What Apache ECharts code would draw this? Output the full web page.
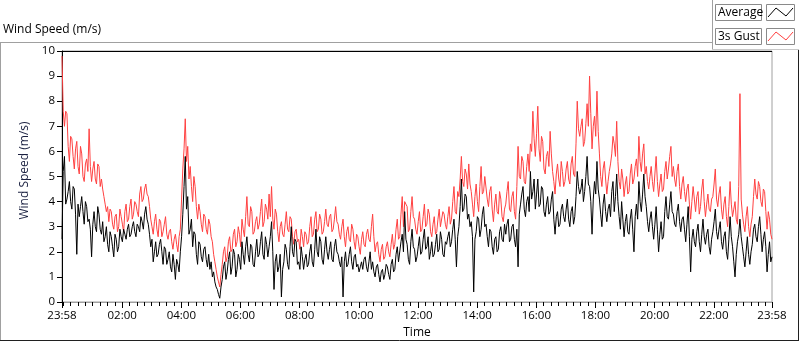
<!DOCTYPE html>
<html>
<head>
<meta charset="utf-8">
<script src="https://cdn.jsdelivr.net/npm/echarts@6/dist/echarts.min.js"></script>
<style>
html, body { margin: 0; padding: 0; background: #fff; }
#chart { width: 800px; height: 342px; }
</style>
</head>
<body>
<div id="chart"></div>
<script>
// one sample every 2.5 minutes, starting at 23:58 the day before
const stepMinutes = 2.5

const gust = [
  9.8, 7.6, 7.0, 7.6, 7.5, 6.2, 5.6, 6.6, 6.5, 5.8, 5.3, 6.1,
  6.4, 5.4, 5.1, 6.2, 5.9, 5.0, 4.8, 5.5, 5.7, 5.2, 6.9, 5.4,
  4.8, 5.3, 5.6, 4.9, 4.7, 5.5, 5.4, 4.6, 4.9, 4.5, 4.2, 3.9,
  3.6, 3.8, 3.2, 3.7, 3.6, 3.1, 2.9, 3.4, 3.5, 2.8, 3.0, 3.7,
  3.4, 3.1, 2.8, 3.6, 3.9, 3.2, 3.3, 3.8, 4.1, 3.3, 3.5, 4.0,
  3.9, 3.6, 3.4, 4.3, 4.6, 4.0, 4.1, 4.5, 4.7, 4.3, 4.2, 3.8,
  3.3, 3.0, 2.7, 3.2, 3.5, 2.9, 2.6, 3.3, 3.2, 2.6, 2.8, 3.1,
  3.4, 2.7, 2.5, 2.8, 2.9, 2.4, 2.1, 2.5, 2.7, 2.3, 2.0, 2.6,
  2.9, 4.1, 5.3, 6.1, 7.3, 5.6, 6.2, 4.9, 5.4, 4.6, 4.0, 5.0,
  4.6, 3.8, 3.3, 3.9, 3.6, 3.1, 2.8, 3.5, 3.4, 2.9, 2.7, 3.3,
  3.1, 2.6, 2.4, 1.9, 1.6, 1.3, 1.0, 0.8, 0.6, 1.1, 1.5, 2.0,
  2.2, 1.6, 1.8, 2.4, 2.6, 2.0, 2.1, 2.7, 2.9, 2.2, 2.4, 3.0,
  2.7, 2.2, 3.3, 2.9, 2.6, 3.4, 4.2, 3.1, 3.0, 3.8, 3.6, 2.7,
  2.8, 3.2, 3.4, 2.9, 3.1, 3.6, 4.1, 3.0, 3.2, 3.9, 3.7, 3.3,
  4.3, 3.4, 4.6, 3.3, 2.9, 3.7, 3.5, 2.8, 2.4, 3.0, 3.2, 2.7,
  2.6, 3.1, 3.6, 2.9, 2.8, 3.4, 3.3, 2.6, 2.3, 2.8, 2.9, 2.4,
  2.5, 2.1, 2.9, 2.6, 2.2, 2.8, 2.7, 2.3, 2.4, 3.0, 3.4, 2.6,
  2.7, 3.3, 3.6, 2.8, 2.9, 3.5, 3.3, 2.7, 2.8, 3.2, 3.7, 3.1,
  3.0, 3.4, 3.5, 2.8, 2.9, 3.3, 3.8, 3.2, 3.1, 2.7, 2.5, 3.0,
  3.3, 2.6, 2.2, 2.8, 3.0, 2.5, 2.4, 3.1, 2.9, 2.4, 2.1, 2.7,
  2.6, 2.2, 1.9, 2.5, 2.8, 2.3, 2.2, 2.7, 2.9, 2.5, 2.4, 3.0,
  3.5, 2.6, 2.0, 2.3, 2.4, 1.9, 1.6, 2.1, 2.3, 1.7, 1.8, 2.2,
  2.4, 2.0, 1.8, 2.3, 2.7, 2.1, 2.3, 2.9, 3.3, 2.5, 2.6, 3.5,
  4.2, 3.0, 4.0, 3.9, 3.8, 2.8, 2.9, 3.6, 4.2, 3.4, 3.3, 2.9,
  2.7, 3.2, 3.6, 2.8, 2.9, 3.4, 3.9, 3.0, 3.1, 3.7, 3.5, 2.8,
  2.6, 3.1, 3.4, 2.7, 2.8, 3.3, 3.7, 3.0, 3.0, 3.6, 3.5, 3.1,
  2.9, 3.4, 3.8, 3.1, 3.3, 4.0, 4.6, 3.6, 3.5, 4.4, 4.2, 4.9,
  5.8, 4.8, 4.6, 5.3, 5.1, 4.5, 5.5, 4.7, 4.4, 3.9, 3.4, 4.2,
  4.7, 4.0, 3.6, 4.6, 5.4, 4.3, 4.4, 5.0, 5.0, 4.1, 3.8, 4.4,
  4.6, 3.7, 3.2, 3.9, 4.3, 3.6, 3.5, 4.4, 4.1, 3.4, 3.2, 3.7,
  3.9, 4.4, 4.8, 3.7, 3.6, 4.2, 4.4, 3.6, 3.3, 4.6, 6.2, 5.0,
  4.9, 5.8, 5.6, 4.8, 4.7, 5.4, 5.9, 5.2, 6.3, 6.0, 7.6, 6.5,
  5.8, 6.7, 7.8, 6.1, 5.6, 6.6, 6.4, 5.3, 5.1, 5.8, 6.0, 5.4,
  6.8, 5.9, 5.2, 4.8, 4.3, 5.1, 5.5, 4.9, 4.6, 5.6, 5.2, 4.6,
  4.8, 5.3, 5.6, 4.9, 4.7, 5.5, 5.8, 5.1, 5.0, 6.3, 8.0, 6.9,
  6.6, 7.0, 7.3, 6.2, 6.4, 7.1, 7.9, 7.0, 9.0, 7.5, 6.1, 7.0,
  7.4, 6.6, 8.4, 6.8, 5.9, 5.0, 4.6, 5.3, 5.6, 4.9, 4.3, 4.8,
  5.2, 5.5, 5.9, 6.6, 6.3, 5.8, 7.2, 5.6, 4.8, 4.5, 5.3, 4.9,
  4.2, 4.7, 5.0, 4.3, 4.4, 5.1, 5.5, 4.7, 4.9, 5.4, 5.7, 5.0,
  6.6, 5.6, 5.2, 5.9, 6.3, 5.1, 5.4, 4.8, 4.5, 5.0, 5.4, 4.8,
  4.4, 5.1, 5.8, 4.8, 4.2, 4.7, 5.1, 4.4, 4.5, 5.2, 5.6, 4.9,
  5.3, 5.8, 6.2, 5.0, 5.4, 4.9, 4.6, 5.2, 5.5, 4.6, 4.1, 4.7,
  5.0, 4.4, 4.0, 4.5, 4.7, 3.9, 3.3, 4.0, 4.6, 4.1, 3.6, 4.2,
  4.4, 3.5, 3.8, 4.5, 4.9, 4.0, 3.4, 3.9, 4.3, 3.7, 3.6, 4.1,
  4.2, 4.7, 5.3, 4.1, 3.8, 4.3, 4.6, 3.7, 3.3, 3.9, 4.2, 3.4,
  3.0, 3.8, 4.8, 3.9, 3.4, 3.7, 4.0, 3.3, 3.1, 4.6, 8.3, 4.1,
  3.5, 3.1, 2.8, 3.4, 3.8, 3.0, 2.6, 3.1, 3.4, 4.2, 4.9, 4.3,
  4.1, 4.8, 4.6, 4.0, 3.8, 4.5, 4.4, 3.6, 2.9, 3.6, 3.3, 2.7,
  2.5
]

const average = [
  2.5, 5.2, 5.8, 3.9, 4.1, 4.4, 4.8, 4.0, 3.7, 4.6, 4.5, 3.5,
  1.9, 3.9, 3.4, 3.8, 4.2, 3.6, 3.1, 4.0, 3.8, 3.2, 3.3, 2.9,
  1.8, 3.1, 3.6, 3.0, 2.8, 3.8, 3.5, 2.9, 2.7, 3.2, 2.4, 2.6,
  3.0, 2.3, 2.0, 2.8, 2.6, 2.2, 1.8, 2.7, 2.5, 2.0, 2.2, 2.9,
  2.6, 2.4, 2.9, 2.7, 2.5, 2.9, 3.1, 2.6, 2.7, 3.0, 3.2, 2.8,
  2.6, 3.1, 3.0, 2.8, 3.4, 3.2, 2.9, 3.5, 3.8, 3.3, 3.1, 2.7,
  2.2, 2.5, 1.6, 2.0, 2.4, 1.8, 1.9, 2.3, 2.5, 2.0, 1.5, 2.2,
  2.1, 1.5, 1.7, 2.0, 1.4, 1.2, 1.9, 1.5, 0.9, 1.7, 1.5, 1.2,
  2.0, 2.6, 3.5, 4.6, 5.8, 3.7, 4.2, 2.7, 2.9, 3.3, 2.2, 2.8,
  2.7, 1.9, 1.5, 2.4, 2.3, 1.8, 1.6, 2.1, 2.2, 1.7, 1.4, 1.9,
  1.3, 1.6, 1.0, 1.2, 0.8, 0.6, 0.5, 0.3, 0.15, 0.6, 0.9, 1.4,
  1.6, 0.9, 1.2, 1.7, 2.0, 1.1, 1.4, 2.1, 1.9, 1.0, 1.3, 1.9,
  1.7, 1.3, 2.4, 1.9, 1.5, 2.2, 2.6, 1.9, 1.6, 2.3, 2.2, 1.5,
  1.4, 2.0, 2.5, 1.8, 1.9, 2.4, 2.8, 1.9, 1.7, 2.6, 2.3, 1.8,
  2.2, 2.6, 3.2, 2.0, 0.5, 1.6, 1.9, 1.2, 1.4, 1.9, 0.2, 1.3,
  1.6, 2.3, 2.1, 1.5, 1.3, 2.2, 3.0, 2.0, 1.8, 2.5, 2.4, 1.5,
  1.6, 1.3, 2.2, 1.8, 1.3, 1.7, 1.9, 1.4, 1.5, 2.0, 2.3, 1.6,
  1.4, 2.1, 2.9, 2.0, 1.8, 2.6, 2.4, 1.7, 1.5, 2.1, 2.6, 2.0,
  1.7, 2.1, 2.4, 1.7, 1.6, 2.2, 2.5, 2.0, 1.9, 1.6, 1.4, 1.8,
  0.2, 1.6, 2.0, 1.4, 1.5, 1.9, 2.2, 1.6, 1.3, 1.8, 1.9, 1.4,
  1.5, 1.2, 1.4, 1.6, 1.3, 1.7, 1.8, 1.4, 1.2, 1.6, 2.0, 1.3,
  1.6, 1.2, 1.0, 1.4, 1.5, 1.1, 0.8, 1.2, 1.3, 0.9, 1.1, 1.5,
  1.4, 1.1, 0.9, 1.5, 1.7, 1.2, 1.3, 1.9, 2.2, 1.6, 1.6, 2.4,
  2.7, 2.0, 3.6, 2.5, 2.3, 1.7, 1.5, 2.4, 2.9, 2.2, 2.1, 1.6,
  1.8, 2.2, 2.6, 1.9, 2.0, 2.5, 2.9, 2.1, 2.2, 2.6, 1.7, 2.0,
  2.4, 1.8, 1.9, 2.3, 2.7, 2.0, 2.1, 2.8, 2.5, 1.9, 1.8, 2.4,
  2.3, 2.6, 2.8, 2.2, 2.4, 2.9, 3.3, 2.5, 1.4, 2.6, 3.0, 3.8,
  4.9, 3.6, 3.7, 4.3, 4.2, 3.3, 3.5, 3.0, 3.2, 2.6, 0.4, 2.5,
  2.8, 3.4, 3.3, 2.6, 2.9, 3.5, 3.8, 3.0, 3.1, 2.6, 2.2, 2.9,
  2.8, 2.2, 1.9, 2.5, 2.6, 2.0, 2.1, 2.8, 3.0, 2.5, 2.4, 3.1,
  2.7, 3.1, 3.3, 2.4, 2.5, 3.0, 3.1, 2.5, 2.2, 2.9, 1.4, 3.5,
  3.9, 4.3, 4.6, 3.7, 3.4, 4.0, 4.2, 3.6, 5.2, 4.1, 4.4, 4.9,
  3.7, 4.3, 4.9, 3.8, 3.9, 4.6, 4.5, 3.6, 3.4, 3.9, 4.2, 3.5,
  3.6, 4.1, 4.4, 3.3, 2.7, 3.4, 3.6, 3.0, 3.1, 3.7, 3.9, 3.4,
  3.2, 3.7, 4.1, 3.3, 3.0, 3.6, 3.8, 3.1, 3.4, 4.2, 5.2, 4.6,
  4.3, 4.5, 4.9, 4.0, 4.4, 5.0, 5.8, 4.7, 4.6, 4.0, 2.7, 4.1,
  4.8, 4.3, 5.6, 4.5, 4.1, 3.5, 3.0, 3.9, 4.3, 3.6, 3.2, 3.7,
  3.9, 3.4, 4.4, 4.8, 3.6, 4.2, 5.1, 4.0, 3.4, 2.9, 4.0, 3.3,
  2.6, 3.2, 3.5, 2.8, 2.7, 3.3, 3.7, 2.9, 2.0, 3.4, 3.9, 3.3,
  4.8, 4.0, 3.6, 4.3, 5.1, 4.2, 3.8, 3.2, 2.8, 3.3, 3.6, 3.0,
  2.5, 3.1, 3.8, 2.9, 2.0, 2.7, 3.2, 2.5, 2.6, 3.6, 4.2, 3.4,
  3.3, 3.9, 4.4, 3.6, 3.5, 3.1, 3.0, 3.6, 3.9, 3.2, 2.8, 3.3,
  3.4, 2.9, 2.4, 3.1, 3.8, 2.6, 1.2, 2.5, 2.9, 2.4, 2.2, 2.8,
  3.1, 2.4, 2.0, 2.7, 3.3, 2.6, 2.3, 2.7, 2.9, 2.2, 1.9, 2.5,
  2.8, 3.2, 3.7, 2.8, 2.5, 2.9, 3.2, 2.4, 2.1, 2.6, 2.8, 2.0,
  1.7, 2.5, 3.4, 2.6, 2.2, 1.6, 1.0, 1.9, 2.4, 2.7, 3.3, 2.6,
  2.2, 1.8, 1.4, 2.0, 2.6, 1.9, 1.5, 2.0, 2.3, 2.9, 3.1, 2.6,
  2.4, 3.0, 3.4, 2.7, 2.0, 2.5, 2.8, 2.2, 1.2, 1.9, 2.4, 1.6,
  1.8
]

// minutes after 23:58 and the labels shown there
const xTickMinutes = [0, 122, 242, 362, 482, 602, 722, 842, 962, 1082, 1202, 1322, 1440]
const xTickLabels = ['23:58', '02:00', '04:00', '06:00', '08:00', '10:00', '12:00',
  '14:00', '16:00', '18:00', '20:00', '22:00', '23:58']

// small ticks every quarter hour of clock time
const minorTickMinutes = []
for (let m = 2; m < 1440; m += 15) minorTickMinutes.push(m)

const font = '"Open Sans", "Noto Sans", sans-serif'

function toPairs(values) {
  return values.map((v, i) => [i * stepMinutes, v])
}

const chart = echarts.init(document.getElementById('chart'), null, {renderer: 'canvas'})

chart.setOption({
  animation: false,
  textStyle: {fontFamily: font},
  title: {
    text: 'Wind Speed (m/s)',
    left: 3,
    top: 24,
    padding: 0,
    textStyle: {fontSize: 12, fontWeight: 'normal', color: '#000', fontFamily: font}
  },
  grid: {
    left: 62,
    right: 28,
    top: 51,
    bottom: 40,
    show: true,
    borderColor: '#a0a0a0',
    borderWidth: 1,
    containLabel: false,
    outerBoundsMode: 'none'
  },
  xAxis: [
    {
      type: 'value',
      min: 0,
      max: 1440,
      position: 'bottom',
      name: 'Time',
      nameLocation: 'middle',
      nameGap: 23,
      nameTextStyle: {fontSize: 12, color: '#000', fontFamily: font},
      axisLine: {show: true, lineStyle: {color: '#a0a0a0'}},
      axisTick: {show: true, customValues: xTickMinutes, length: 6, lineStyle: {color: '#000'}},
      axisLabel: {
        customValues: xTickMinutes,
        showMinLabel: true,
        showMaxLabel: true,
        margin: 8,
        fontSize: 11.5,
        color: '#000',
        fontFamily: font,
        formatter: (v) => xTickLabels[xTickMinutes.indexOf(v)]
      },
      splitLine: {show: false}
    },
    {
      type: 'value',
      min: 0,
      max: 1440,
      position: 'bottom',
      axisLine: {show: false},
      axisTick: {show: true, customValues: minorTickMinutes, length: 4, lineStyle: {color: '#000'}},
      axisLabel: {show: false},
      splitLine: {show: false}
    }
  ],
  yAxis: {
    type: 'value',
    min: 0,
    max: 10,
    interval: 1,
    name: 'Wind Speed (m/s)',
    nameLocation: 'middle',
    nameGap: 21,
    nameTextStyle: {fontSize: 12, color: '#1a2040', fontFamily: font, padding: [0, 0, 0, 12]},
    axisLine: {show: true, lineStyle: {color: '#000'}},
    axisTick: {show: true, length: 5, lineStyle: {color: '#000'}},
    axisLabel: {margin: 7, fontSize: 11.5, color: '#000', fontFamily: font},
    splitLine: {show: false}
  },
  series: [
    {
      name: '3s Gust',
      type: 'line',
      data: toPairs(gust),
      showSymbol: false,
      silent: true,
      lineStyle: {color: '#ff4040', width: 1},
      itemStyle: {color: '#ff4040'},
      z: 2
    },
    {
      name: 'Average',
      type: 'line',
      data: toPairs(average),
      showSymbol: false,
      silent: true,
      lineStyle: {color: '#000', width: 1},
      itemStyle: {color: '#000'},
      z: 3
    }
  ],
  graphic: [
    // outer frame
    {type: 'line', shape: {x1: 0, y1: 42.5, x2: 712, y2: 42.5}, style: {stroke: '#a0a0a0'}},
    {type: 'line', shape: {x1: 0.5, y1: 42, x2: 0.5, y2: 341}, style: {stroke: '#a0a0a0'}},
    {type: 'line', shape: {x1: 0, y1: 340.5, x2: 799, y2: 340.5}, style: {stroke: '#202020'}},
    {type: 'line', shape: {x1: 798.5, y1: 49, x2: 798.5, y2: 341}, style: {stroke: '#202020'}},
    // legend panel
    {type: 'line', shape: {x1: 712.5, y1: 0, x2: 712.5, y2: 49}, style: {stroke: '#a0a0a0'}},
    {type: 'line', shape: {x1: 712, y1: 49.5, x2: 799, y2: 49.5}, style: {stroke: '#c8c8c8'}},
    // plot frame top edge
    {type: 'line', shape: {x1: 62, y1: 51.5, x2: 772, y2: 51.5}, style: {stroke: '#000'}, z: 10},
    // legend entries
    {type: 'rect', shape: {x: 715.5, y: 4.5, width: 46, height: 16}, style: {fill: '#fff', stroke: '#8a8a8a'}},
    {type: 'rect', shape: {x: 766.5, y: 4.5, width: 28, height: 16}, style: {fill: '#fff', stroke: '#8a8a8a'}},
    {type: 'text', style: {text: 'Average', x: 718, y: 12.5, verticalAlign: 'middle', fontSize: 12, fontFamily: font, fill: '#000'}},
    {type: 'polyline', shape: {points: [[768, 17], [776, 8], [786, 16], [793, 8]]}, style: {stroke: '#000', lineWidth: 1, fill: null}},
    {type: 'rect', shape: {x: 715.5, y: 28.5, width: 46, height: 16}, style: {fill: '#fff', stroke: '#8a8a8a'}},
    {type: 'rect', shape: {x: 766.5, y: 28.5, width: 28, height: 16}, style: {fill: '#fff', stroke: '#8a8a8a'}},
    {type: 'text', style: {text: '3s Gust', x: 718, y: 36.5, verticalAlign: 'middle', fontSize: 12, fontFamily: font, fill: '#000'}},
    {type: 'polyline', shape: {points: [[768, 41], [776, 32], [786, 40], [793, 32]]}, style: {stroke: '#ff4040', lineWidth: 1, fill: null}}
  ]
})
</script>
</body>
</html>
